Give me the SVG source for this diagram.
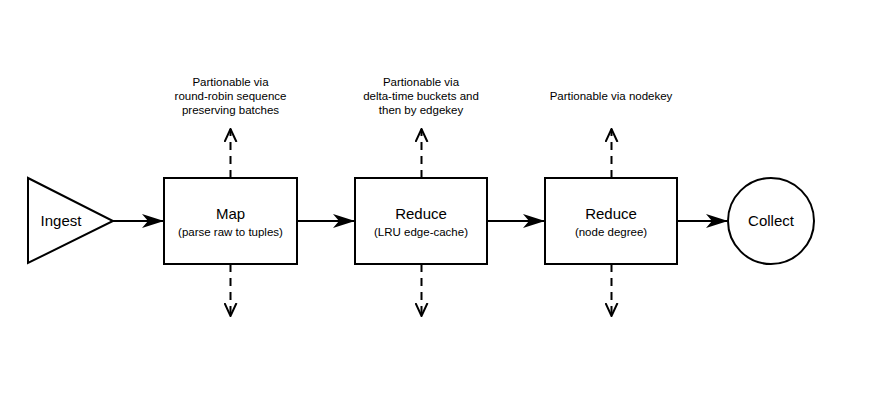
<svg xmlns="http://www.w3.org/2000/svg" width="880" height="412" viewBox="0 0 880 412">
<style>
.shape{fill:#fff;stroke:#000;stroke-width:2}
.line{fill:none;stroke:#000;stroke-width:2}
.dash{fill:none;stroke:#000;stroke-width:2;stroke-dasharray:8,6}
.t{font-family:"Liberation Sans",Arial,sans-serif;fill:#000;text-anchor:middle}
.big{font-size:15px}
.small{font-size:11.5px}
.note{font-size:11.5px}
</style>
<defs>
<marker id="solid" viewBox="0 0 22 14" refX="21" refY="7" markerWidth="22" markerHeight="14" markerUnits="userSpaceOnUse" orient="auto">
<path d="M0,0 L22,7 L0,14 L6,7 Z" fill="#000"/>
</marker>
<marker id="open" viewBox="0 0 14 14" refX="13" refY="7" markerWidth="14" markerHeight="14" markerUnits="userSpaceOnUse" orient="auto">
<path d="M0,1 L13,7 L0,13" fill="none" stroke="#000" stroke-width="2"/>
</marker>
</defs>
<rect width="880" height="412" fill="#fff"/>
<g id="connectors">
<line class="line" x1="113" y1="221" x2="163" y2="221" marker-end="url(#solid)"/>
<line class="line" x1="297" y1="221" x2="354" y2="221" marker-end="url(#solid)"/>
<line class="line" x1="487" y1="221" x2="544" y2="221" marker-end="url(#solid)"/>
<line class="line" x1="677" y1="221" x2="727" y2="221" marker-end="url(#solid)"/>
<line class="dash" x1="230.500" y1="178" x2="230.500" y2="129" marker-end="url(#open)"/>
<line class="dash" x1="421.500" y1="178" x2="421.500" y2="129" marker-end="url(#open)"/>
<line class="dash" x1="611.500" y1="178" x2="611.500" y2="129" marker-end="url(#open)"/>
<line class="dash" x1="230.500" y1="264" x2="230.500" y2="316" marker-end="url(#open)"/>
<line class="dash" x1="421.500" y1="264" x2="421.500" y2="316" marker-end="url(#open)"/>
<line class="dash" x1="611.500" y1="264" x2="611.500" y2="316" marker-end="url(#open)"/>
</g>
<g id="ingest">
<polygon class="shape" points="28,178 28,263 113,221"/>
<text class="t big" x="61" y="226">Ingest</text>
</g>
<g id="map">
<rect class="shape" x="164" y="178" width="133" height="86"/>
<text class="t big" x="230.500" y="219">Map</text>
<text class="t small" x="230.500" y="236">(parse raw to tuples)</text>
</g>
<g id="reduce1">
<rect class="shape" x="355" y="178" width="132" height="86"/>
<text class="t big" x="421" y="219">Reduce</text>
<text class="t small" x="421" y="236">(LRU edge-cache)</text>
</g>
<g id="reduce2">
<rect class="shape" x="545" y="178" width="132" height="86"/>
<text class="t big" x="611" y="219">Reduce</text>
<text class="t small" x="611" y="236">(node degree)</text>
</g>
<g id="collect">
<circle class="shape" cx="771" cy="221" r="43"/>
<text class="t big" x="771" y="226">Collect</text>
</g>
<g id="note-map">
<text class="t note" x="230.500" y="86">Partionable via</text>
<text class="t note" x="230.500" y="100">round-robin sequence</text>
<text class="t note" x="230.500" y="114">preserving batches</text>
</g>
<g id="note-reduce1">
<text class="t note" x="421" y="86">Partionable via</text>
<text class="t note" x="421" y="100">delta-time buckets and</text>
<text class="t note" x="421" y="114">then by edgekey</text>
</g>
<g id="note-reduce2">
<text class="t note" x="611" y="100">Partionable via nodekey</text>
</g>
</svg>
